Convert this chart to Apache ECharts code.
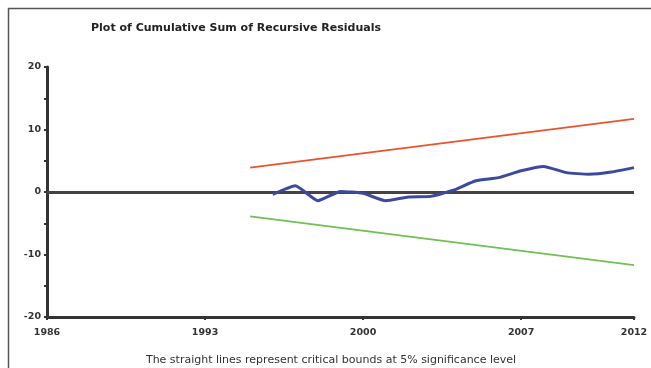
<!DOCTYPE html>
<html>
<head>
<meta charset="utf-8">
<style>
  html, body { margin: 0; padding: 0; background: #fff; }
  #chart { width: 651px; height: 368px; }
</style>
<script src="https://cdn.jsdelivr.net/npm/echarts@6/dist/echarts.min.js"></script>
</head>
<body>
<div id="chart"></div>
<script>
// CUSUM of recursive residuals, annual observations
const years = [1996, 1997, 1998, 1999, 2000, 2001, 2002, 2003, 2004,
               2005, 2006, 2007, 2008, 2009, 2010, 2011, 2012];
const cusum = [-0.4, 1.0, -1.4, 0.1, -0.2, -1.4, -0.8, -0.7, 0.3,
               1.8, 2.3, 3.4, 4.1, 3.1, 2.85, 3.2, 3.9];

// 5% critical bounds (straight lines, given by their end points)
const boundYears = [1995, 2012];
const upperBound = [3.9, 11.7];
const lowerBound = [-3.9, -11.7];

const xTickLabels = [1986, 1993, 2000, 2007, 2012];
const yTickLabels = [-20, -10, 0, 10, 20];

const pairs = (xs, ys) => xs.map((x, i) => [x, ys[i]]);

const chart = echarts.init(document.getElementById('chart'), null, { renderer: 'canvas' });

const labelStyle = {
  fontFamily: 'DejaVu Sans, sans-serif',
  fontSize: 9.5,
  fontWeight: 'bold',
  color: '#333'
};

chart.setOption({
  animation: false,
  backgroundColor: '#fff',
  title: [{
    text: 'Plot of Cumulative Sum of Recursive Residuals',
    left: 231, top: 18, textAlign: 'center',
    textStyle: { fontFamily: 'DejaVu Sans, sans-serif', fontSize: 11, fontWeight: 'bold', color: '#222' }
  }, {
    text: 'The straight lines represent critical bounds at 5% significance level',
    left: 326, top: 350, textAlign: 'center',
    textStyle: { fontFamily: 'DejaVu Sans, sans-serif', fontSize: 11, fontWeight: 'normal', color: '#333' }
  }],
  graphic: [{
    type: 'polyline',
    shape: { points: [[8.5, 368], [8.5, 8.5], [651, 8.5]] },
    style: { fill: 'none', stroke: '#555', lineWidth: 1.5 },
    silent: true
  }],
  grid: { left: 47, right: 17, top: 67, bottom: 51, containLabel: false },
  xAxis: {
    type: 'value',
    min: 1986, max: 2012,
    splitLine: { show: false },
    axisLine: { onZero: false, lineStyle: { color: '#333', width: 3 } },
    axisTick: { show: true, length: 3, customValues: xTickLabels, lineStyle: { color: '#333', width: 2 } },
    axisLabel: Object.assign({ customValues: xTickLabels, margin: 11, formatter: v => String(v) }, labelStyle)
  },
  yAxis: {
    type: 'value',
    min: -20, max: 20, interval: 10,
    splitLine: { show: false },
    axisLine: { show: true, lineStyle: { color: '#333', width: 3 } },
    axisTick: { show: true, length: 3, lineStyle: { color: '#333', width: 2 } },
    minorTick: { show: true, splitNumber: 2, length: 3, lineStyle: { color: '#333', width: 2 } },
    axisLabel: Object.assign({ margin: 6, customValues: yTickLabels }, labelStyle)
  },
  series: [{
    name: 'Upper bound',
    type: 'line',
    data: pairs(boundYears, upperBound),
    symbol: 'none',
    lineStyle: { color: '#e8542e', width: 2 },
    z: 3
  }, {
    name: 'Lower bound',
    type: 'line',
    data: pairs(boundYears, lowerBound),
    symbol: 'none',
    lineStyle: { color: '#72c050', width: 2 },
    z: 3
  }, {
    name: 'CUSUM',
    type: 'line',
    data: pairs(years, cusum),
    symbol: 'none',
    smooth: 0.15,
    lineStyle: { color: '#3b4a9e', width: 3 },
    z: 5,
    markLine: {
      silent: true,
      symbol: 'none',
      label: { show: false },
      lineStyle: { color: '#444', width: 3, type: 'solid' },
      data: [{ yAxis: 0 }],
      z: 4
    }
  }]
});
</script>
</body>
</html>
